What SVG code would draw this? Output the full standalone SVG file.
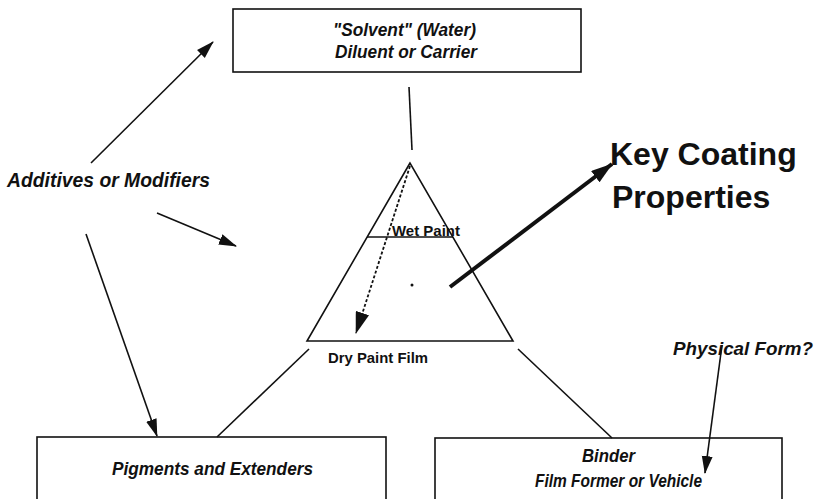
<svg xmlns="http://www.w3.org/2000/svg" width="819" height="499" viewBox="0 0 819 499">
<style>
.box{fill:#fff;stroke:#111;stroke-width:1.6}
.lbl{font-family:"Liberation Sans",Arial,sans-serif;font-weight:bold;font-style:italic;fill:#111}
.plain{font-family:"Liberation Sans",Arial,sans-serif;font-weight:bold;fill:#111}
.ln{stroke:#111;stroke-width:1.6;fill:none}
</style>
<defs>
<marker id="ah" markerUnits="userSpaceOnUse" markerWidth="18" markerHeight="12" refX="17" refY="5.5" orient="auto" viewBox="0 0 18 11">
<path d="M0,0 L18,5.5 L0,11 Z" fill="#111"/>
</marker>
<marker id="ahBig" markerUnits="userSpaceOnUse" markerWidth="22" markerHeight="14" refX="21" refY="7" orient="auto" viewBox="0 0 22 14">
<path d="M0,0 L22,7 L0,14 Z" fill="#111"/>
</marker>
</defs>
<rect width="819" height="499" fill="#fff"/>

<g id="solvent">
<rect class="box" x="233" y="9" width="348" height="63"/>
<text class="lbl" x="333" y="36" font-size="18" textLength="143" lengthAdjust="spacingAndGlyphs">"Solvent" (Water)</text>
<text class="lbl" x="335" y="58" font-size="18" textLength="142" lengthAdjust="spacingAndGlyphs">Diluent or Carrier</text>
</g>

<g id="triangle">
<path class="ln" d="M410,163 L307,341 L513,341 Z"/>
<line class="ln" x1="367" y1="237" x2="453" y2="237"/>
<text class="plain" x="392" y="236" font-size="14.5" textLength="68" lengthAdjust="spacingAndGlyphs">Wet Paint</text>
<circle cx="412" cy="285" r="1.5" fill="#111"/>
<text class="plain" x="328" y="363" font-size="14.5" textLength="100" lengthAdjust="spacingAndGlyphs">Dry Paint Film</text>
</g>

<g id="additives">
<text class="lbl" x="7" y="187" font-size="20" textLength="203" lengthAdjust="spacingAndGlyphs">Additives or Modifiers</text>
</g>

<g id="keycoating">
<text class="plain" x="610" y="165" font-size="32">Key Coating</text>
<text class="plain" x="612" y="208" font-size="32">Properties</text>
</g>

<g id="pigments">
<rect class="box" x="37" y="437" width="349" height="70"/>
<text class="lbl" x="112" y="475" font-size="18" textLength="201" lengthAdjust="spacingAndGlyphs">Pigments and Extenders</text>
</g>

<g id="binder">
<rect class="box" x="435" y="438" width="347" height="70"/>
<text class="lbl" x="582" y="462" font-size="18" textLength="53" lengthAdjust="spacingAndGlyphs">Binder</text>
<text class="lbl" x="535" y="487" font-size="18" textLength="167" lengthAdjust="spacingAndGlyphs">Film Former or Vehicle</text>
</g>

<g id="physical">
<text class="lbl" x="673" y="355" font-size="19" textLength="140" lengthAdjust="spacingAndGlyphs">Physical Form?</text>
</g>

<g id="connectors">
<line class="ln" x1="409" y1="87" x2="412" y2="150"/>
<line class="ln" x1="309" y1="349" x2="217" y2="437"/>
<line class="ln" x1="518" y1="349" x2="612" y2="438"/>
<line class="ln" x1="91" y1="163" x2="213" y2="42" marker-end="url(#ah)"/>
<line class="ln" x1="157" y1="213" x2="236" y2="246" marker-end="url(#ah)"/>
<line class="ln" x1="86" y1="234" x2="157" y2="436" marker-end="url(#ah)"/>
<line class="ln" x1="722" y1="345" x2="705" y2="473" marker-end="url(#ah)"/>
<line stroke="#111" stroke-width="1.8" stroke-dasharray="3 2" x1="410" y1="166" x2="356" y2="333" marker-end="url(#ahBig)"/>
<line stroke="#111" stroke-width="4" x1="450" y1="287" x2="612" y2="164" marker-end="url(#ahBig)"/>
</g>
</svg>
